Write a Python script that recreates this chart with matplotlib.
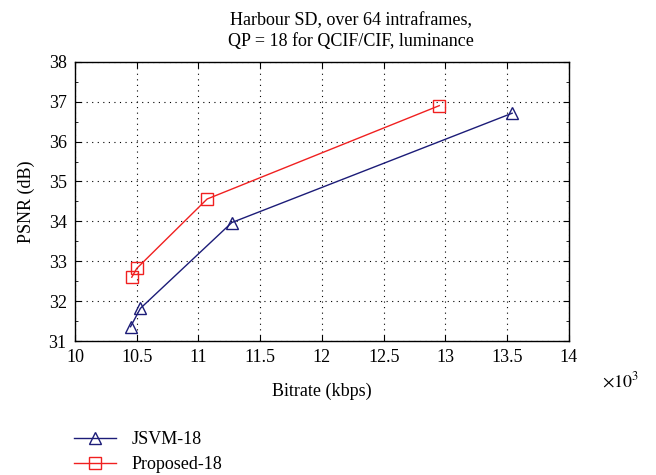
import matplotlib.pyplot as plt
from matplotlib.ticker import MultipleLocator, FormatStrFormatter

# Bitrate in units of 10^3 kbps, PSNR in dB
jsvm_rate = [10.45, 10.53, 11.27, 13.54]
jsvm_psnr = [31.36, 31.82, 33.97, 36.71]
prop_rate = [10.46, 10.50, 11.07, 12.95]
prop_psnr = [32.60, 32.82, 34.56, 36.90]

plt.rcParams["font.family"] = ["Liberation Serif", "DejaVu Serif"]
plt.rcParams["font.size"] = 13
plt.rcParams["mathtext.fontset"] = "stix"

fig = plt.figure(figsize=(6.56, 4.75), dpi=100)
ax = fig.add_axes([0.1143, 0.282, 0.753, 0.588])

ax.plot(jsvm_rate, jsvm_psnr, color="#1c1c78", linewidth=1.0,
        marker="^", markersize=8, markerfacecolor="none",
        markeredgecolor="#1c1c78", label="JSVM-18")
ax.plot(prop_rate, prop_psnr, color="#f02020", linewidth=1.0,
        marker="s", markersize=8, markerfacecolor="none",
        markeredgecolor="#f02020", label="Proposed-18")

ax.set_xlim(10, 14)
ax.set_ylim(31, 38)
ax.xaxis.set_major_locator(MultipleLocator(0.5))
ax.xaxis.set_major_formatter(FormatStrFormatter("%g"))
ax.yaxis.set_major_locator(MultipleLocator(1))
ax.yaxis.set_minor_locator(MultipleLocator(0.5))
ax.tick_params(which="both", direction="in", top=True, right=True)
ax.tick_params(which="major", length=4, pad=6)
ax.tick_params(which="minor", length=2)
ax.grid(True, linestyle=(0, (1, 4)), color="black", linewidth=0.8)
for s in ax.spines.values():
    s.set_linewidth(1.0)

ax.set_xlabel("Bitrate (kbps)", labelpad=12)
ax.set_ylabel("PSNR (dB)", labelpad=10)
fig.text(0.975, 0.197, r"$\times10^3$", ha="right", va="center", fontsize=13)

fig.text(0.535, 0.975, "Harbour SD, over 64 intraframes,\nQP = 18 for QCIF/CIF, luminance",
         ha="center", va="top", fontsize=13, linespacing=1.3)

fig.legend(loc="lower left", bbox_to_anchor=(0.088, -0.03), frameon=False,
           handlelength=2.3, handletextpad=0.9, fontsize=13, labelspacing=0.45)

fig.savefig("out.png", dpi=100)
